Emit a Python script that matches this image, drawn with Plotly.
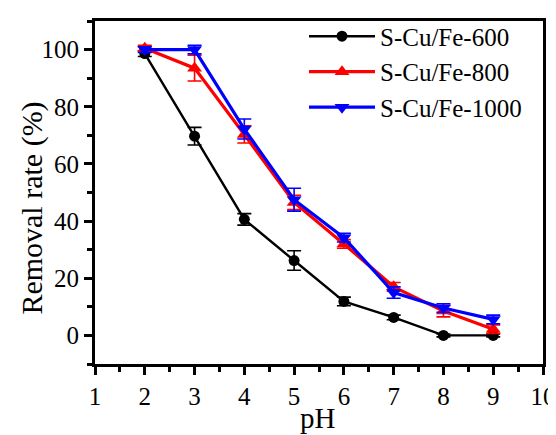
import plotly.graph_objects as go

ph = [2, 3, 4, 5, 6, 7, 8, 9]
s600 = [98.6, 69.7, 40.6, 26.2, 11.9, 6.3, 0.0, 0.0]
s600_err = [1.0, 3.1, 2.0, 3.4, 1.5, 0.8, 0.5, 0.5]
s800 = [100.5, 93.5, 70.3, 46.5, 32.0, 17.0, 8.5, 2.2]
s800_err = [1.0, 4.5, 3.0, 2.5, 1.5, 1.5, 2.0, 1.5]
s1000 = [100.0, 100.0, 72.2, 47.5, 34.2, 15.0, 9.6, 5.6]
s1000_err = [1.0, 1.5, 3.5, 4.0, 1.5, 2.0, 1.5, 1.5]

x_ticks = [1, 2, 3, 4, 5, 6, 7, 8, 9, 10]
y_ticks = [0, 20, 40, 60, 80, 100]

FONT = "Liberation Serif"
# page body has an 8px margin, so the figure is shifted by 8px
OFF = 8
W, H = 556 - OFF, 435 - OFF
L, R, T, B = 95 - OFF, 13, 13 - OFF, 71
PW, PH = W - L - R, H - T - B

fig = go.Figure()
series = [
    ("S-Cu/Fe-600", s600, s600_err, "black", "circle", 11, 2.4),
    ("S-Cu/Fe-800", s800, s800_err, "#ff0000", "triangle-up", 13, 3.2),
    ("S-Cu/Fe-1000", s1000, s1000_err, "#0000ff", "triangle-down", 13, 3.2),
]
for name, y, err, col, sym, sz, lw in series:
    fig.add_trace(go.Scatter(
        x=ph, y=y, name=name, mode="lines+markers",
        line=dict(color=col, width=lw),
        marker=dict(symbol=sym, size=sz, color=col),
        error_y=dict(type="data", array=err, visible=True, color=col,
                     thickness=1.6, width=7),
    ))

axis_common = dict(
    showgrid=False, zeroline=False, showline=True, linecolor="black",
    linewidth=3, mirror=True, ticks="outside", ticklen=8, tickwidth=2.5,
    tickcolor="black", tickfont=dict(family=FONT, size=25, color="black"),
    automargin=False,
)
fig.update_xaxes(
    range=[1, 10], tickvals=x_ticks,
    minor=dict(ticks="outside", ticklen=5, tickwidth=2.5, tickcolor="black", dtick=0.5, tick0=1),
    **axis_common,
)
fig.update_yaxes(
    range=[-10, 110], tickvals=y_ticks,
    minor=dict(ticks="outside", ticklen=5, tickwidth=2.5, tickcolor="black", dtick=10, tick0=0),
    **axis_common,
)
fig.add_annotation(text="pH", xref="paper", yref="paper",
                   x=(317.5 - OFF - L) / PW, y=(T + PH - (419 - OFF)) / PH,
                   xanchor="center", yanchor="middle", showarrow=False,
                   font=dict(family=FONT, size=29, color="black"))
fig.add_annotation(text="Removal rate (%)", xref="paper", yref="paper",
                   x=(32 - OFF - L) / PW, y=(T + PH - (205 - OFF)) / PH, textangle=-90,
                   xanchor="center", yanchor="middle", showarrow=False,
                   font=dict(family=FONT, size=30, color="black"))
fig.update_layout(
    width=W, height=H,
    margin=dict(l=L, r=R, t=T, b=B),
    paper_bgcolor="white", plot_bgcolor="white",
    showlegend=True,
    legend=dict(x=(527 - OFF - L) / PW, xanchor="right", y=1.022, yanchor="top",
                font=dict(family=FONT, size=25, color="black"),
                bgcolor="rgba(0,0,0,0)", tracegroupgap=0, itemwidth=66),
)
fig.write_html("out.html")
